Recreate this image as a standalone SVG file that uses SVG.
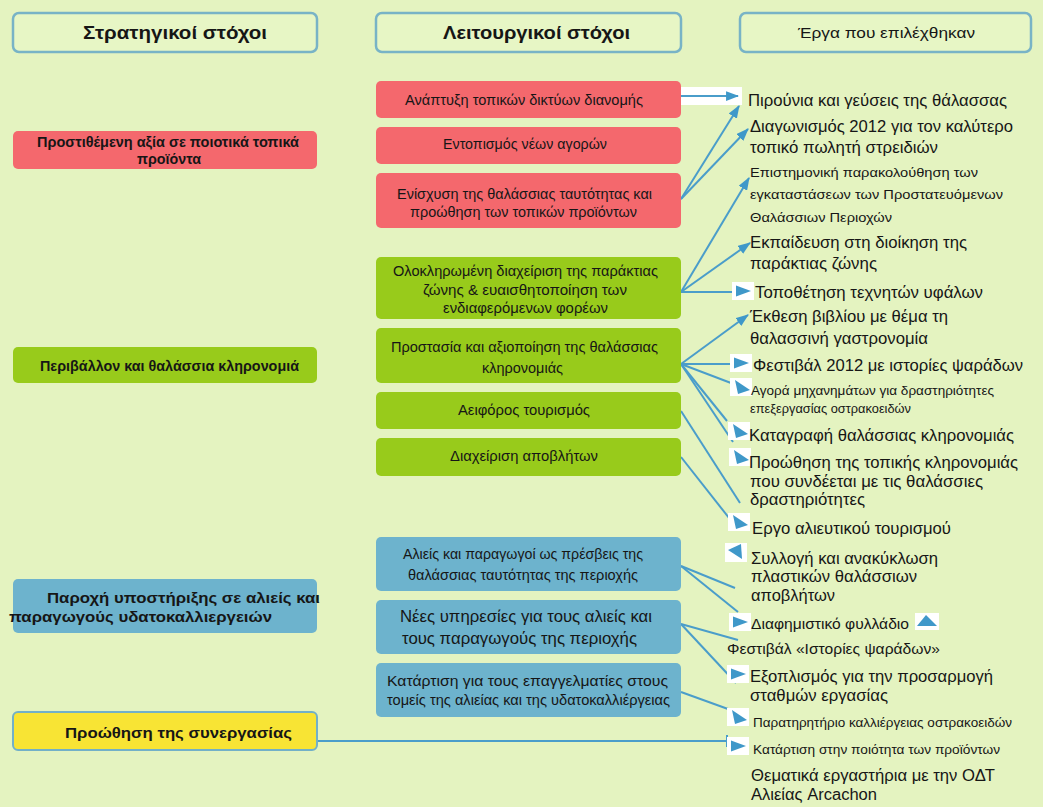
<svg xmlns="http://www.w3.org/2000/svg" width="1043" height="807" viewBox="0 0 1043 807">
  <style>
    text { font-family: "Liberation Sans", Arial, sans-serif; fill: #161616; }
    .hdr { fill: #e7f6c5; stroke: #78b3c6; stroke-width: 2.5; }
    .red { fill: #f4686d; }
    .grn { fill: #98cb1b; }
    .blu { fill: #6db3cd; }
    .yel { fill: #f8e434; stroke: #72b0c8; stroke-width: 2; }
    .h1 { font-size: 18px; font-weight: bold; }
    .h2 { font-size: 15px; }
    .lb { font-size: 14px; font-weight: bold; }
    .lb2 { font-size: 15px; font-weight: bold; }
    .m { font-size: 15.5px; }
    .m16 { font-size: 16.5px; }
    .r { font-size: 16px; }
    .r14 { font-size: 14px; }
    .r13 { font-size: 13px; }
    .r12 { font-size: 12px; }
    .ln { stroke: #4a9dca; stroke-width: 2; fill: none; }
    .arr { marker-end: url(#head); }
    .ib { fill: #ffffff; }
    .it { fill: #3f98c9; }
  </style>
  <defs>
    <marker id="head" viewBox="0 0 12 9" refX="11" refY="4.5" markerWidth="13" markerHeight="10" markerUnits="userSpaceOnUse" orient="auto">
      <path d="M0,0 L12,4.5 L0,9 Z" fill="#3f98c9"/>
    </marker>
    <!-- small white tiles carrying a blue arrowhead -->
    <g id="icoRight"><rect class="ib" x="0" y="0" width="22" height="18"/><polygon class="it" points="4,3.5 19,9 4,14.5"/></g>
    <g id="icoTilt"><rect class="ib" x="0" y="0" width="22" height="18"/><polygon class="it" points="5,2 20,12 8,16"/></g>
    <g id="icoLeft"><rect class="ib" x="0" y="0" width="22" height="19"/><polygon class="it" points="3,7 16,1 17,16"/></g>
    <g id="icoUp"><rect class="ib" x="0" y="0" width="24" height="17"/><polygon class="it" points="11,2 2,13 22,13"/></g>
  </defs>

  <rect x="0" y="0" width="1043" height="807" fill="#e4f3c0"/>

  <!-- column headers -->
  <g id="hdr-strategic">
    <rect class="hdr" x="13" y="13" width="304" height="39" rx="6"/>
    <text class="h1" x="83" y="39" textLength="184" lengthAdjust="spacingAndGlyphs">Στρατηγικοί στόχοι</text>
  </g>
  <g id="hdr-operational">
    <rect class="hdr" x="376" y="13" width="305" height="39" rx="6"/>
    <text class="h1" x="443" y="39" textLength="187" lengthAdjust="spacingAndGlyphs">Λειτουργικοί στόχοι</text>
  </g>
  <g id="hdr-projects">
    <rect class="hdr" x="740" y="13" width="291" height="39" rx="6"/>
    <text class="h2" x="798" y="38" textLength="177" lengthAdjust="spacingAndGlyphs">Έργα που επιλέχθηκαν</text>
  </g>

  <!-- connectors -->
  <g id="connectors">
    <rect class="ib" x="680" y="87" width="62" height="18"/>
    <line class="ln arr" x1="681" y1="96" x2="738" y2="96"/>
    <line class="ln arr" x1="681" y1="199" x2="739" y2="106"/>
    <line class="ln arr" x1="681" y1="199" x2="748" y2="129"/>
    <line class="ln arr" x1="681" y1="292" x2="749" y2="178"/>
    <line class="ln arr" x1="681" y1="292" x2="750" y2="243"/>
    <line class="ln" x1="681" y1="292" x2="733" y2="292"/>
    <line class="ln arr" x1="681" y1="364" x2="748" y2="315"/>
    <line class="ln" x1="681" y1="364" x2="731" y2="364"/>
    <line class="ln" x1="681" y1="364" x2="731" y2="383"/>
    <line class="ln" x1="681" y1="364" x2="727" y2="421"/>
    <line class="ln" x1="681" y1="364" x2="733" y2="442"/>
    <line class="ln" x1="681" y1="411" x2="740" y2="503"/>
    <line class="ln" x1="681" y1="457" x2="733" y2="523"/>
    <line class="ln" x1="681" y1="566" x2="735" y2="588"/>
    <line class="ln" x1="681" y1="566" x2="738" y2="612"/>
    <line class="ln" x1="681" y1="624" x2="738" y2="640"/>
    <line class="ln" x1="681" y1="624" x2="736" y2="683"/>
    <line class="ln" x1="681" y1="692" x2="728" y2="709"/>
    <line class="ln" x1="317" y1="741" x2="727" y2="741"/>
    <line class="ln" x1="727" y1="735" x2="727" y2="747"/>
    <use href="#icoRight" x="732" y="282"/>
    <use href="#icoRight" x="730" y="354"/>
    <use href="#icoTilt" x="730" y="378"/>
    <use href="#icoTilt" x="728" y="422"/>
    <use href="#icoTilt" x="729" y="448"/>
    <use href="#icoTilt" x="728" y="513"/>
    <use href="#icoLeft" x="725" y="543"/>
    <use href="#icoRight" x="729" y="613"/>
    <use href="#icoUp" x="915" y="613"/>
    <use href="#icoRight" x="727" y="665"/>
    <use href="#icoTilt" x="727" y="708"/>
    <use href="#icoRight" x="727" y="737"/>
  </g>

  <!-- strategic goals -->
  <g id="s-added-value">
    <rect class="red" x="13" y="131" width="304" height="38" rx="5"/>
    <text class="lb" x="37" y="147" textLength="262" lengthAdjust="spacingAndGlyphs">Προστιθέμενη αξία σε ποιοτικά τοπικά</text>
    <text class="lb" x="137" y="164" textLength="64" lengthAdjust="spacingAndGlyphs">προϊόντα</text>
  </g>
  <g id="s-environment">
    <rect class="grn" x="13" y="347" width="304" height="36" rx="5"/>
    <text class="lb" x="40" y="371" textLength="259" lengthAdjust="spacingAndGlyphs">Περιβάλλον και θαλάσσια κληρονομιά</text>
  </g>
  <g id="s-support">
    <rect class="blu" x="13" y="579" width="304" height="54" rx="5"/>
    <text class="lb2" x="47" y="603" textLength="273" lengthAdjust="spacingAndGlyphs">Παροχή υποστήριξης σε αλιείς και</text>
    <text class="lb2" x="9" y="622" textLength="263" lengthAdjust="spacingAndGlyphs">παραγωγούς υδατοκαλλιεργειών</text>
  </g>
  <g id="s-cooperation">
    <rect class="yel" x="13" y="712" width="304" height="38" rx="5"/>
    <text class="lb2" x="65" y="738" textLength="227" lengthAdjust="spacingAndGlyphs">Προώθηση της συνεργασίας</text>
  </g>

  <!-- operational goals -->
  <g id="o-networks">
    <rect class="red" x="376" y="81" width="305" height="37" rx="5"/>
    <text class="m" x="405" y="105" textLength="238" lengthAdjust="spacingAndGlyphs">Ανάπτυξη τοπικών δικτύων διανομής</text>
  </g>
  <g id="o-markets">
    <rect class="red" x="376" y="127" width="305" height="37" rx="5"/>
    <text class="m" x="443" y="149" textLength="164" lengthAdjust="spacingAndGlyphs">Εντοπισμός νέων αγορών</text>
  </g>
  <g id="o-identity">
    <rect class="red" x="376" y="173" width="305" height="55" rx="5"/>
    <text class="m" x="397" y="199" textLength="255" lengthAdjust="spacingAndGlyphs">Ενίσχυση της θαλάσσιας ταυτότητας και</text>
    <text class="m" x="410" y="217" textLength="227" lengthAdjust="spacingAndGlyphs">προώθηση των τοπικών προϊόντων</text>
  </g>
  <g id="o-coastal">
    <rect class="grn" x="376" y="257" width="305" height="62" rx="5"/>
    <text class="m" x="393" y="276" textLength="265" lengthAdjust="spacingAndGlyphs">Ολοκληρωμένη διαχείριση της παράκτιας</text>
    <text class="m" x="423" y="295" textLength="204" lengthAdjust="spacingAndGlyphs">ζώνης &amp; ευαισθητοποίηση των</text>
    <text class="m" x="443" y="313" textLength="165" lengthAdjust="spacingAndGlyphs">ενδιαφερόμενων φορέων</text>
  </g>
  <g id="o-heritage">
    <rect class="grn" x="376" y="328" width="305" height="55" rx="5"/>
    <text class="m" x="391" y="352" textLength="267" lengthAdjust="spacingAndGlyphs">Προστασία και αξιοποίηση της θαλάσσιας</text>
    <text class="m" x="482" y="373" textLength="81" lengthAdjust="spacingAndGlyphs">κληρονομιάς</text>
  </g>
  <g id="o-tourism">
    <rect class="grn" x="376" y="392" width="305" height="37" rx="5"/>
    <text class="m" x="458" y="415" textLength="132" lengthAdjust="spacingAndGlyphs">Αειφόρος τουρισμός</text>
  </g>
  <g id="o-waste">
    <rect class="grn" x="376" y="438" width="305" height="38" rx="5"/>
    <text class="m" x="450" y="461" textLength="148" lengthAdjust="spacingAndGlyphs">Διαχείριση αποβλήτων</text>
  </g>
  <g id="o-ambassadors">
    <rect class="blu" x="376" y="537" width="305" height="54" rx="5"/>
    <text class="m" x="403" y="559" textLength="240" lengthAdjust="spacingAndGlyphs">Αλιείς και παραγωγοί ως πρέσβεις της</text>
    <text class="m" x="408" y="580" textLength="230" lengthAdjust="spacingAndGlyphs">θαλάσσιας ταυτότητας της περιοχής</text>
  </g>
  <g id="o-services">
    <rect class="blu" x="376" y="600" width="305" height="54" rx="5"/>
    <text class="m16" x="400" y="622" textLength="252" lengthAdjust="spacingAndGlyphs">Νέες υπηρεσίες για τους αλιείς και</text>
    <text class="m16" x="402" y="644" textLength="235" lengthAdjust="spacingAndGlyphs">τους παραγωγούς της περιοχής</text>
  </g>
  <g id="o-training">
    <rect class="blu" x="376" y="663" width="305" height="54" rx="5"/>
    <text class="m" x="387" y="686" textLength="281" lengthAdjust="spacingAndGlyphs">Κατάρτιση για τους επαγγελματίες στους</text>
    <text class="m" x="387" y="705" textLength="283" lengthAdjust="spacingAndGlyphs">τομείς της αλιείας και της υδατοκαλλιέργειας</text>
  </g>

  <!-- selected projects -->
  <g id="p-forks"><text class="r" x="748" y="106" textLength="259" lengthAdjust="spacingAndGlyphs">Πιρούνια και γεύσεις της θάλασσας</text></g>
  <g id="p-contest">
    <text class="r" x="750" y="132" textLength="263" lengthAdjust="spacingAndGlyphs">Διαγωνισμός 2012 για τον καλύτερο</text>
    <text class="r" x="750" y="153" textLength="188" lengthAdjust="spacingAndGlyphs">τοπικό πωλητή στρειδιών</text>
  </g>
  <g id="p-monitoring">
    <text class="r13" x="750" y="177" textLength="228" lengthAdjust="spacingAndGlyphs">Επιστημονική παρακολούθηση των</text>
    <text class="r13" x="750" y="199" textLength="253" lengthAdjust="spacingAndGlyphs">εγκαταστάσεων των Προστατευόμενων</text>
    <text class="r13" x="750" y="222" textLength="142" lengthAdjust="spacingAndGlyphs">Θαλάσσιων Περιοχών</text>
  </g>
  <g id="p-education">
    <text class="r" x="750" y="248" textLength="217" lengthAdjust="spacingAndGlyphs">Εκπαίδευση στη διοίκηση της</text>
    <text class="r" x="750" y="269" textLength="127" lengthAdjust="spacingAndGlyphs">παράκτιας ζώνης</text>
  </g>
  <g id="p-reefs"><text class="r" x="755" y="298" textLength="228" lengthAdjust="spacingAndGlyphs">Τοποθέτηση τεχνητών υφάλων</text></g>
  <g id="p-book">
    <text class="r" x="750" y="322" textLength="198" lengthAdjust="spacingAndGlyphs">Έκθεση βιβλίου με θέμα τη</text>
    <text class="r" x="750" y="344" textLength="178" lengthAdjust="spacingAndGlyphs">θαλασσινή γαστρονομία</text>
  </g>
  <g id="p-festival2012"><text class="r" x="753" y="371" textLength="270" lengthAdjust="spacingAndGlyphs">Φεστιβάλ 2012 με ιστορίες ψαράδων</text></g>
  <g id="p-machinery">
    <text class="r12" x="751" y="395" textLength="243" lengthAdjust="spacingAndGlyphs">Αγορά μηχανημάτων για δραστηριότητες</text>
    <text class="r12" x="750" y="413" textLength="161" lengthAdjust="spacingAndGlyphs">επεξεργασίας οστρακοειδών</text>
  </g>
  <g id="p-survey"><text class="r" x="749" y="441" textLength="265" lengthAdjust="spacingAndGlyphs">Καταγραφή θαλάσσιας κληρονομιάς</text></g>
  <g id="p-promotion">
    <text class="r" x="749" y="468" textLength="269" lengthAdjust="spacingAndGlyphs">Προώθηση της τοπικής κληρονομιάς</text>
    <text class="r" x="750" y="487" textLength="233" lengthAdjust="spacingAndGlyphs">που συνδέεται με τις θαλάσσιες</text>
    <text class="r" x="750" y="505" textLength="115" lengthAdjust="spacingAndGlyphs">δραστηριότητες</text>
  </g>
  <g id="p-fishtourism"><text class="r" x="752" y="534" textLength="199" lengthAdjust="spacingAndGlyphs">Εργο αλιευτικού τουρισμού</text></g>
  <g id="p-recycling">
    <text class="r" x="751" y="564" textLength="187" lengthAdjust="spacingAndGlyphs">Συλλογή και ανακύκλωση</text>
    <text class="r" x="751" y="582" textLength="166" lengthAdjust="spacingAndGlyphs">πλαστικών θαλάσσιων</text>
    <text class="r" x="751" y="601" textLength="84" lengthAdjust="spacingAndGlyphs">αποβλήτων</text>
  </g>
  <g id="p-leaflet"><text class="r14" x="751" y="629" textLength="158" lengthAdjust="spacingAndGlyphs">Διαφημιστικό φυλλάδιο</text></g>
  <g id="p-festival"><text class="r14" x="727" y="654" textLength="213" lengthAdjust="spacingAndGlyphs">Φεστιβάλ «Ιστορίες ψαράδων»</text></g>
  <g id="p-equipment">
    <text class="r" x="750" y="682" textLength="243" lengthAdjust="spacingAndGlyphs">Εξοπλισμός για την προσαρμογή</text>
    <text class="r" x="750" y="701" textLength="138" lengthAdjust="spacingAndGlyphs">σταθμών εργασίας</text>
  </g>
  <g id="p-observatory"><text class="r12" x="753" y="727" textLength="259" lengthAdjust="spacingAndGlyphs">Παρατηρητήριο καλλιέργειας οστρακοειδών</text></g>
  <g id="p-quality"><text class="r12" x="753" y="754" textLength="247" lengthAdjust="spacingAndGlyphs">Κατάρτιση στην ποιότητα των προϊόντων</text></g>
  <g id="p-workshops">
    <text class="r" x="751" y="781" textLength="244" lengthAdjust="spacingAndGlyphs">Θεματικά εργαστήρια με την ΟΔΤ</text>
    <text class="r" x="751" y="800" textLength="126" lengthAdjust="spacingAndGlyphs">Αλιείας Arcachon</text>
  </g>
</svg>
